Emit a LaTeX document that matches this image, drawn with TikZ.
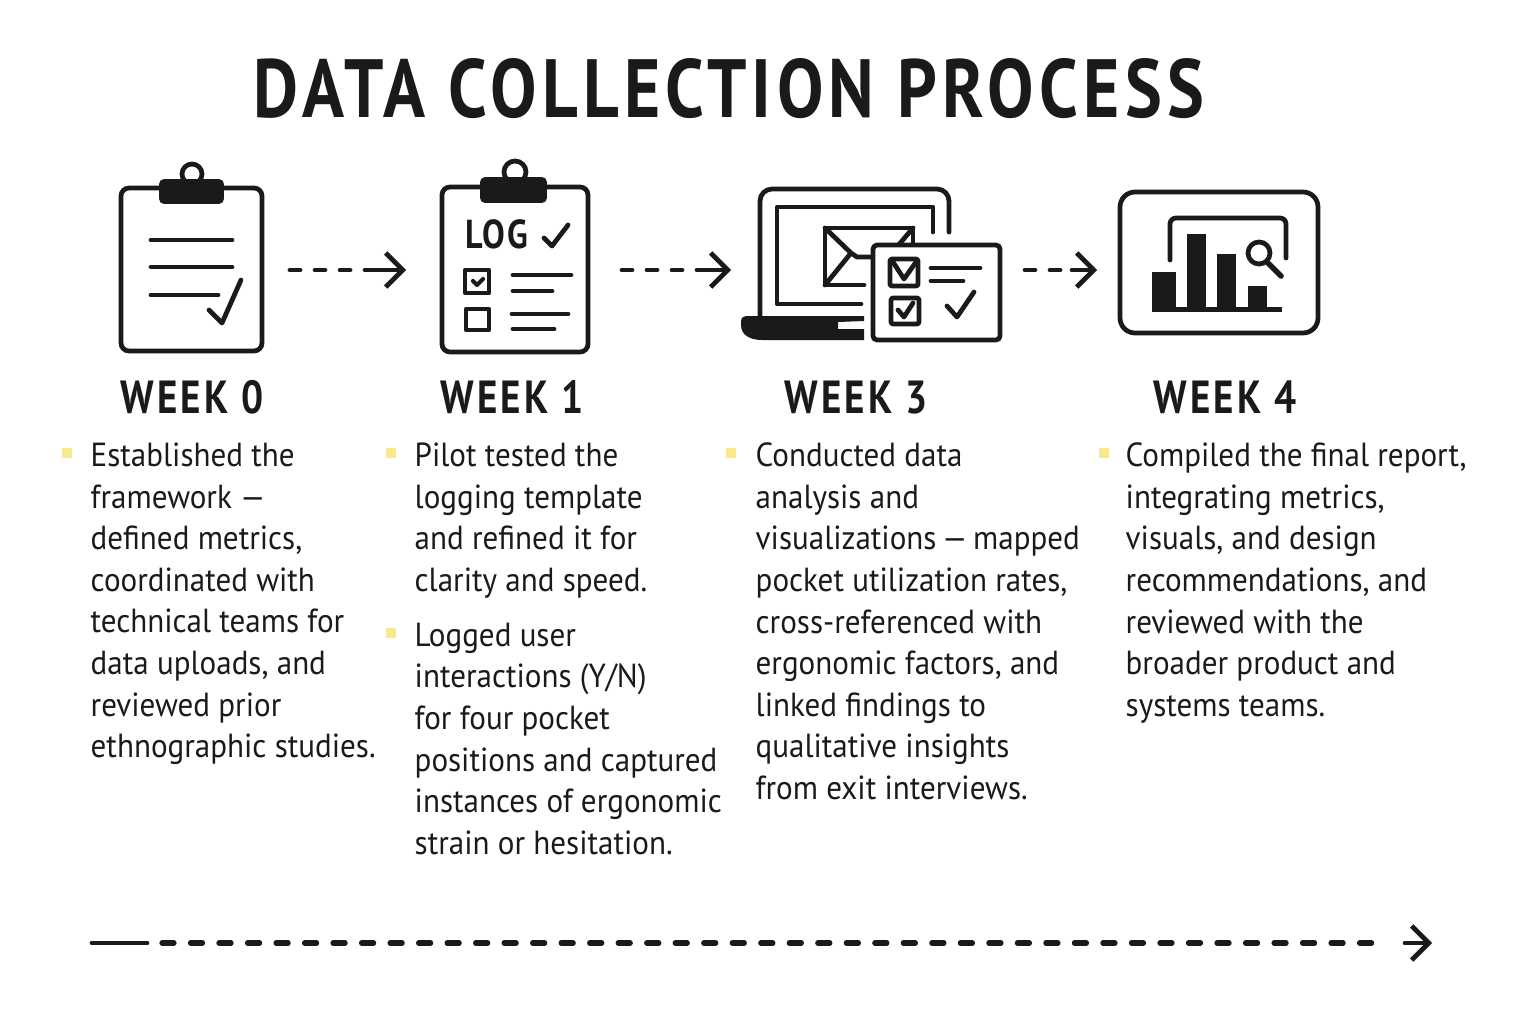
\documentclass[tikz,border=0pt]{standalone}
\usepackage{fontspec}
\setmainfont[FakeStretch=0.93]{PT Sans}
\newfontfamily\titlefont[LetterSpace=6.5,FakeStretch=0.84]{PT Sans}
\usetikzlibrary{arrows.meta}
\definecolor{ink}{HTML}{1A1A1A}
\definecolor{marker}{HTML}{F9E88C}
\tikzset{
    pen/.style={draw=ink,line width=1.35pt,line cap=round,line join=round},
    thin pen/.style={pen,line width=1.2pt},
    solid ink/.style={fill=ink,draw=ink,line width=0.5pt,line join=round},
    flow/.style={pen,dash pattern=on 10*0.2845pt off 15*0.2845pt},
    time flow/.style={pen,line width=1.5pt,dash pattern=on 12*0.2845pt off 16.5*0.2845pt},
    tip/.style={pen,-{Straight Barb[length=0.17cm,width=0.34cm,line width=1.35pt]}},
    week/.style={inner sep=0pt,anchor=base,text=ink,font=\titlefont\bfseries\fontsize{13.2}{16}\selectfont},
    body/.style={inner sep=0pt,anchor=north west,align=left,text=ink,font=\fontsize{9.5}{11.84}\selectfont},
    dot/.style={fill=marker,minimum size=0.1cm,inner sep=0pt}
}
\begin{document}
\begin{tikzpicture}[x=0.01cm,y=-0.01cm]
    \useasboundingbox (0,0) rectangle (1536,1024);
    \node[inner sep=0pt,anchor=base,text=ink,font=\titlefont\bfseries\fontsize{23.5}{28}\selectfont] (title) at (729,117) {DATA COLLECTION PROCESS};

    \draw[pen,rounded corners=0.08cm] (121,188) rectangle (262,351);
    \draw[pen] (192,174) circle (10);
    \draw[solid ink,rounded corners=0.04cm] (160,180) rectangle (223,203);
    \draw[pen] (151,240)--(232,240) (151,267)--(232,267) (151,295)--(218,295);
    \draw[pen] (209,310)--(222,323)--(241,280);

    \draw[pen,rounded corners=0.08cm] (442,187) rectangle (588,352);
    \draw[pen] (515,172) circle (11);
    \draw[solid ink,rounded corners=0.04cm] (481,178) rectangle (546,202);
    \node[inner sep=0pt,anchor=base,text=ink,font=\titlefont\bfseries\fontsize{11.5}{14}\selectfont] (logword) at (497,248) {LOG};
    \draw[pen] (544,238)--(552,246)--(568,225);
    \draw[pen] (465,270) rectangle (489,293) (466,309) rectangle (489,330);
    \draw[thin pen] (473,281)--(477,285)--(483,279);
    \draw[pen] (513,275)--(571,275) (513,291)--(552,291) (512,314)--(568,314) (513,329)--(554,329);

    \draw[pen,rounded corners=0.12cm] (949,232)--(949,189)--(760,189)--(760,317);
    \draw[pen] (933,232)--(933,207)--(777,207)--(777,304)--(861,304);
    \draw[pen] (864,285)--(825,285)--(825,228)--(913,228)--(913,250);
    \draw[pen] (825,228)--(851,253)--(857,257)--(880,257) (825,285)--(851,253) (896,248)--(913,228);
    \fill[ink] (746,316)--(864,316)--(864,321)--(838,322)--(838,329)--(864,329)--(864,340)--(762,340)
        .. controls (750,340) and (741,335) .. (741,325) -- (741,322) .. controls (741,318) and (743,316) .. (746,316)--cycle;
    \draw[pen,fill=white,rounded corners=0.04cm] (873,245) rectangle (1000,340);
    \draw[pen,rounded corners=0.02cm] (890,259) rectangle (918,286) (891,298) rectangle (919,324);
    \draw[pen] (893,262)--(904,279)--(916,262);
    \draw[pen] (898,310)--(904,317)--(913,303);
    \draw[pen] (931,268)--(980,268) (931,281)--(963,281);
    \draw[pen] (947,306)--(957,317)--(974,292);

    \draw[pen,rounded corners=0.15cm] (1120,192) rectangle (1318,333);
    \draw[pen,rounded corners=0.06cm] (1170,260)--(1170,218)--(1286,218)--(1286,258);
    \fill[ink] (1152,272) rectangle (1176,312);
    \fill[ink] (1187,234) rectangle (1206,312);
    \fill[ink] (1217,254) rectangle (1236,312);
    \fill[ink] (1248,286) rectangle (1267,312);
    \fill[ink] (1152,307) rectangle (1282,312);
    \draw[pen] (1259,253) circle (11);
    \draw[pen,line width=1.6pt] (1268,263)--(1281,276);

    \coordinate (a0) at (290,270); \coordinate (a1) at (365,270); \coordinate (a2) at (406,270);
    \coordinate (b0) at (622,270); \coordinate (b1) at (697,270); \coordinate (b2) at (731,270);
    \coordinate (c0) at (1025,270); \coordinate (c1) at (1072,270); \coordinate (c2) at (1097,270);
    \coordinate (d0) at (162,943); \coordinate (d1) at (1388,943); \coordinate (d2) at (1432,943);
    \coordinate (d3) at (1405,943);
    \coordinate (start) at (92,943);
    \coordinate (solid) at (147,943);
    \foreach \p in {a,b,c}{
        \draw[flow] (\p0)--(\p1);
        \draw[tip] (\p1)--(\p2);
    }
    \draw[time flow] (d0)--(d1);
    \draw[tip] (d3)--(d2);
    \draw[pen] (start)--(solid);

    \node[week] (week0) at (192,413) {WEEK 0};
    \node[week] (week1) at (512,413) {WEEK 1};
    \node[week] (week3) at (856,413) {WEEK 3};
    \node[week] (week4) at (1225,413) {WEEK 4};

    \node[dot] (m0) at (67,453) {};
    \node[dot] (m1) at (391,453) {};
    \node[dot] (m2) at (391,633) {};
    \node[dot] (m3) at (731,453) {};
    \node[dot] (m4) at (1104,453) {};

    \node[body] (text0) at (90,442) {Established the\\framework ---\\defined metrics,\\coordinated with\\technical teams for\\data uploads, and\\reviewed prior\\ethnographic studies.};
    \node[body] (text1) at (414,442) {Pilot tested the\\logging template\\and refined it for\\clarity and speed.};
    \node[body] (text2) at (414,622) {Logged user\\interactions (Y/N)\\for four pocket\\positions and captured\\instances of ergonomic\\strain or hesitation.};
    \node[body] (text3) at (755,442) {Conducted data\\analysis and\\visualizations\,---\,mapped\\pocket utilization rates,\\cross-referenced with\\ergonomic factors, and\\linked findings to\\qualitative insights\\from exit interviews.};
    \node[body] (text4) at (1125,442) {Compiled the final report,\\integrating metrics,\\visuals, and design\\recommendations, and\\reviewed with the\\broader product and\\systems teams.};
\end{tikzpicture}
\end{document}
